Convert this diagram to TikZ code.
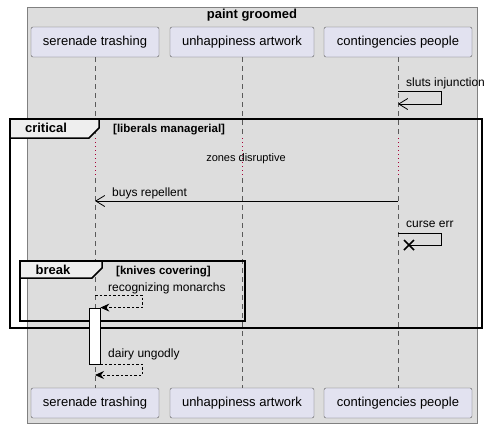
\documentclass[tikz,border=0pt]{standalone}
\usepackage{fontspec}
\setmainfont{Liberation Sans}
\usetikzlibrary{arrows.meta,positioning}
\definecolor{boxgray}{HTML}{DDDDDD}
\definecolor{partfill}{HTML}{E2E2F0}
\definecolor{partline}{HTML}{5A5A5A}
\definecolor{tabfill}{HTML}{EEEEEE}
\definecolor{delayred}{HTML}{A80036}
\tikzset{
  participant/.style={draw=partline, fill=partfill, rounded corners=2pt, minimum height=30pt,
    inner sep=0pt, font=\fontsize{13}{15}\selectfont},
  lifeline/.style={draw=partline, dash pattern=on 5pt off 4pt, line width=0.6pt},
  delayline/.style={draw=delayred, dash pattern=on 1pt off 3pt, line width=0.8pt},
  msgline/.style={line width=0.8pt},
  replyline/.style={line width=0.8pt, dash pattern=on 2.5pt off 2pt},
  msgtext/.style={font=\fontsize{12}{14}\selectfont, anchor=base west, inner sep=0pt},
  frameline/.style={draw=black, line width=1.5pt},
  tabtext/.style={font=\bfseries\fontsize{13}{15}\selectfont, inner sep=0pt},
  guardtext/.style={font=\bfseries\fontsize{11.5}{13}\selectfont, anchor=base west, inner sep=0pt},
  openhead/.style={-{Straight Barb[length=9pt,width=11pt]}},
  fillhead/.style={-{Stealth[length=9pt,width=8pt,inset=3pt]}}
}
\begin{document}
\begin{tikzpicture}[x=1pt,y=-1pt]
\useasboundingbox (0,0) rectangle (498,429);
% box round the participants
\draw[fill=boxgray, draw=gray] (27,7) rectangle (477,423);
\node[font=\bfseries\fontsize{13}{15}\selectfont] (title) at (252,15) {paint groomed};
% participants, top and bottom
\node[participant, minimum width=128pt] (st) at (95,42) {serenade trashing};
\node[participant, minimum width=144pt] (ua) at (242,42) {unhappiness artwork};
\node[participant, minimum width=148pt] (cp) at (398,42) {contingencies people};
\node[participant, minimum width=128pt] (stb) at (95,403) {serenade trashing};
\node[participant, minimum width=144pt] (uab) at (242,403) {unhappiness artwork};
\node[participant, minimum width=148pt] (cpb) at (398,403) {contingencies people};
% lifelines, dotted during the delay
\coordinate (dtop) at (0,138);
\coordinate (dbot) at (0,178);
\draw[lifeline] (st.south) -- (st.south |- dtop);
\draw[delayline] (st.south |- dtop) -- (st.south |- dbot);
\draw[lifeline] (st.south |- dbot) -- (stb.north);
\draw[lifeline] (ua.south) -- (ua.south |- dtop);
\draw[delayline] (ua.south |- dtop) -- (ua.south |- dbot);
\draw[lifeline] (ua.south |- dbot) -- (uab.north);
\draw[lifeline] (cp.south) -- (cp.south |- dtop);
\draw[delayline] (cp.south |- dtop) -- (cp.south |- dbot);
\draw[lifeline] (cp.south |- dbot) -- (cpb.north);
% sluts injunction
\coordinate (si1) at (cp.south |- 0,91);
\coordinate (si2) at (cp.south |- 0,104);
\draw[msgline, openhead] (si1) -- ++(43,0) |- (si2);
\node[msgtext] (silabel) at (406,86) {sluts injunction};
% critical frame
\draw[frameline] (10,119) rectangle (482,328);
\draw[frameline, fill=tabfill] (10,119) -- (99,119) -- (99,128) -- (89,138) -- (10,138) -- cycle;
\node[tabtext] (crit) at (46,128) {critical};
\node[guardtext] (critguard) at (113,132) {[liberals managerial]};
\node[font=\fontsize{11}{13}\selectfont, inner sep=0pt] (delay) at (246,159) {zones disruptive};
% buys repellent
\coordinate (br1) at (cp.south |- 0,201);
\coordinate (br2) at (st.south |- 0,201);
\draw[msgline, openhead] (br1) -- (br2);
\node[msgtext] (brlabel) at (112,196) {buys repellent};
% curse err, ends in a cross
\coordinate (ce1) at (cp.south |- 0,233);
\coordinate (ce2) at (409,245);
\draw[msgline] (ce1) -- ++(43,0) |- (ce2);
\draw[line width=1.6pt] (ce2) ++(-5,-5) -- ++(10,10) (ce2) ++(-5,5) -- ++(10,-10);
\node[msgtext] (celabel) at (406,227) {curse err};
% break frame
\draw[frameline] (20,261) rectangle (245,321);
\draw[frameline, fill=tabfill] (20,261) -- (102,261) -- (102,268) -- (92,278) -- (20,278) -- cycle;
\node[tabtext] (brk) at (53,270) {break};
\node[guardtext] (brkguard) at (116,274) {[knives covering]};
% activation
\node[draw, fill=white, line width=0.8pt, minimum width=11pt, minimum height=56pt, inner sep=0pt] (act) at (94.5,336) {};
% recognizing monarchs
\coordinate (rm1) at (st.south |- 0,295);
\draw[replyline, fillhead] (rm1) -- ++(47,0) |- (act.north east);
\node[msgtext] (rmlabel) at (108,291) {recognizing monarchs};
% dairy ungodly
\coordinate (du2) at (st.south |- 0,375);
\draw[replyline, fillhead] (act.south east) -- ++(42,0) |- (du2);
\node[msgtext] (dulabel) at (108,357) {dairy ungodly};
\end{tikzpicture}
\end{document}
